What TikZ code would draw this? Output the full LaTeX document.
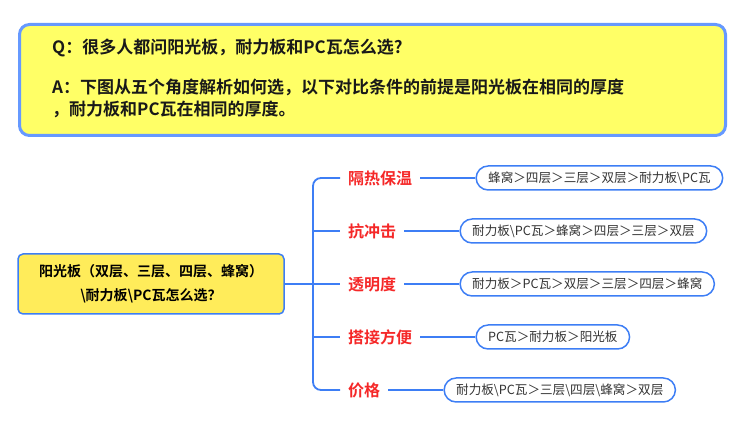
\documentclass[tikz,border=0pt]{standalone}
\usepackage{fontspec}
\setmainfont{Noto Sans CJK SC}[BoldFont={Noto Sans CJK SC Bold}]
\usetikzlibrary{positioning}

\definecolor{lineblue}{RGB}{61,126,245}
\definecolor{boxblue}{RGB}{102,153,255}
\definecolor{qyellow}{RGB}{255,255,102}
\definecolor{hubyellow}{RGB}{255,236,90}
\definecolor{tagred}{RGB}{245,40,40}

\begin{document}
\begin{tikzpicture}[x=1pt, y=-1pt,
  qabox/.style={draw=boxblue, line width=3pt, fill=qyellow, rounded corners=10pt,
                minimum width=706pt, minimum height=111pt},
  qatext/.style={anchor=west, inner sep=0pt, align=left, text=black!90,
                 font=\fontsize{17}{22}\selectfont\bfseries},
  hub/.style={draw=lineblue, line width=1.5pt, fill=hubyellow, rounded corners=5pt,
              minimum width=266pt, minimum height=60pt, align=center,
              font=\fontsize{14}{24}\selectfont\bfseries},
  tag/.style={anchor=west, inner xsep=8pt, inner ysep=0pt, text=tagred,
              font=\fontsize{16}{16}\selectfont\bfseries},
  pill/.style={draw=lineblue, line width=1.5pt, rounded corners=12pt, minimum height=24pt,
               inner xsep=12pt, inner ysep=0pt, text=black!80,
               font=\fontsize{12.6}{14}\selectfont},
  link/.style={draw=lineblue, line width=1.8pt},
]
\useasboundingbox (0,0) rectangle (750,443);

% --- Question box ---
\node[qabox] (qa) at (372.5,80) {};
\node[qatext] (q) at (52,48) {Q：很多人都问阳光板，耐力板和PC瓦怎么选?};
\node[qatext, anchor=north west] (a) at (52,79)
  {A：下图从五个角度解析如何选，以下对比条件的前提是阳光板在相同的厚度\\，耐力板和PC瓦在相同的厚度。};

% --- Central topic ---
\node[hub] (hub) at (151,284)
  {阳光板（双层、三层、四层、蜂窝）\\\textbackslash 耐力板\textbackslash PC瓦怎么选？};

% --- Branch labels ---
\node[tag] (t1) at (340,178) {隔热保温};
\node[tag] (t2) at (340,231) {抗冲击};
\node[tag] (t3) at (340,284) {透明度};
\node[tag] (t4) at (340,337) {搭接方便};
\node[tag] (t5) at (340,390) {价格};

% --- Rankings ---
\node[pill, right=55pt of t1] (p1) {蜂窝＞四层＞三层＞双层＞耐力板\textbackslash PC瓦};
\node[pill, right=55pt of t2] (p2) {耐力板\textbackslash PC瓦＞蜂窝＞四层＞三层＞双层};
\node[pill, right=55pt of t3] (p3) {耐力板＞PC瓦＞双层＞三层＞四层＞蜂窝};
\node[pill, right=55pt of t4] (p4) {PC瓦＞耐力板＞阳光板};
\node[pill, right=55pt of t5] (p5) {耐力板\textbackslash PC瓦＞三层\textbackslash 四层\textbackslash 蜂窝＞双层};

% --- Connectors ---
\coordinate (trunk) at (313,284);
\draw[link] (hub.east) -- (trunk);
\draw[link, rounded corners=8pt] (t1.west) -| (trunk) |- (t5.west);
\draw[link] (trunk |- t2.west) -- (t2.west);
\draw[link] (trunk) -- (t3.west);
\draw[link] (trunk |- t4.west) -- (t4.west);

\foreach \i in {1,...,5}
  \draw[link] (t\i.east) -- (p\i.west);

\end{tikzpicture}
\end{document}
